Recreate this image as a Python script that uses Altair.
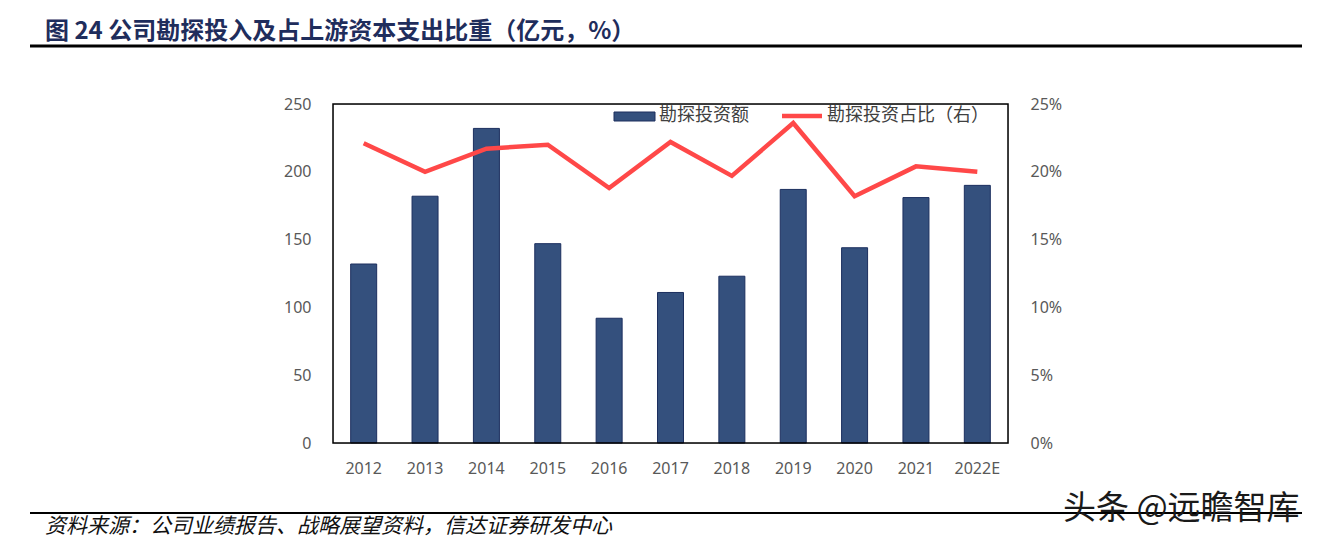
import altair as alt
import pandas as pd

years = ["2012", "2013", "2014", "2015", "2016", "2017", "2018", "2019", "2020", "2021", "2022E"]
invest = [132, 182, 232, 147, 92, 111, 123, 187, 144, 181, 190]
share = [0.221, 0.200, 0.217, 0.220, 0.188, 0.222, 0.197, 0.236, 0.182, 0.204, 0.200]

title_text = "图 24  公司勘探投入及占上游资本支出比重（亿元，%）"
source_text = "资料来源：公司业绩报告、战略展望资料，信达证券研发中心"
watermark = "头条 @远瞻智库"
legend_bar = "勘探投资额"
legend_line = "勘探投资占比（右）"

df = pd.DataFrame({"year": years, "invest": invest, "share": share})

W, H = 675, 339
CJK = "Noto Sans CJK SC"
NUM = "Noto Sans"
LAB = "#595959"

x_enc = alt.X("year:N", sort=years,
              axis=alt.Axis(title=None, labelAngle=0, ticks=False, domain=False,
                            labelPadding=17, labelFontSize=16, labelColor=LAB,
                            labelFont=NUM))

bars = alt.Chart(df).mark_bar(size=26, color="#34507d", stroke="#1c2f5f", strokeWidth=1).encode(
    x=x_enc,
    y=alt.Y("invest:Q", scale=alt.Scale(domain=[0, 250]),
            axis=alt.Axis(title=None, values=[0, 50, 100, 150, 200, 250], ticks=False,
                          domain=False, grid=False, labelPadding=22, labelFontSize=16,
                          labelColor=LAB, labelFont=NUM)),
)

line = alt.Chart(df).mark_line(color="#ff4848", strokeWidth=4.5).encode(
    x=alt.X("year:N", sort=years),
    y=alt.Y("share:Q", scale=alt.Scale(domain=[0, 0.25]),
            axis=alt.Axis(title=None, orient="right", format=".0%",
                          values=[0, 0.05, 0.10, 0.15, 0.20, 0.25], ticks=False,
                          domain=False, grid=False, labelPadding=22, labelFontSize=16,
                          labelColor=LAB, labelFont=NUM)),
)

main = alt.layer(bars, line).resolve_scale(y="independent")

one = pd.DataFrame({"a": [0]})

def txt(t, x, y, **kw):
    return alt.Chart(one).mark_text(**kw).encode(
        x=alt.value(x), y=alt.value(y), text=alt.value(t))

# plot frame
frame = alt.Chart(one).mark_rect(fill=None, stroke="#000", strokeWidth=1.5).encode(
    x=alt.value(0), x2=alt.value(W), y=alt.value(0), y2=alt.value(H))

# legend
leg_rect = alt.Chart(one).mark_rect(color="#34507d", stroke="#1c2f5f", strokeWidth=1).encode(
    x=alt.value(614 - 333), x2=alt.value(655 - 333), y=alt.value(112 - 104), y2=alt.value(121 - 104))
leg_rule = alt.Chart(one).mark_rule(color="#ff4848", strokeWidth=4.5).encode(
    x=alt.value(782 - 333), x2=alt.value(822 - 333), y=alt.value(116 - 104))
leg_t1 = txt(legend_bar, 659 - 333, 116 - 104, align="left", baseline="middle",
             font=CJK, fontSize=18, color="#404040")
leg_t2 = txt(legend_line, 827 - 333, 116 - 104, align="left", baseline="middle",
             font=CJK, fontSize=18, color="#404040")

# title, rules, footer
title = txt(title_text, 45 - 333, 32 - 104, align="left", baseline="middle",
            font=CJK, fontSize=24, fontWeight="bold", color="#1f2d5c")
top_rule = alt.Chart(one).mark_rule(color="#000", strokeWidth=3).encode(
    x=alt.value(30 - 333), x2=alt.value(1302 - 333), y=alt.value(46 - 104))
bot_rule = alt.Chart(one).mark_rule(color="#000", strokeWidth=2).encode(
    x=alt.value(30 - 333), x2=alt.value(1302 - 333), y=alt.value(513 - 104))
source = txt(source_text, 45 - 333, 527 - 104, align="left", baseline="middle",
             font=CJK, fontSize=21, fontStyle="italic", color="#111")
wm = txt(watermark, 1063 - 333, 509 - 104, align="left", baseline="middle",
         font=CJK, fontSize=33, color="#1a1a1a")

chart = alt.layer(main, frame, leg_rect, leg_rule, leg_t1, leg_t2, title, top_rule, bot_rule, source, wm).properties(
    width=W, height=H,
    autosize=alt.AutoSizeParams(type="none"),
    padding={"left": 325, "top": 96, "right": 298, "bottom": 96},
).configure_view(strokeWidth=0).configure(background="white")

chart.save("out.html", embed_options={"renderer": "svg", "actions": False})
